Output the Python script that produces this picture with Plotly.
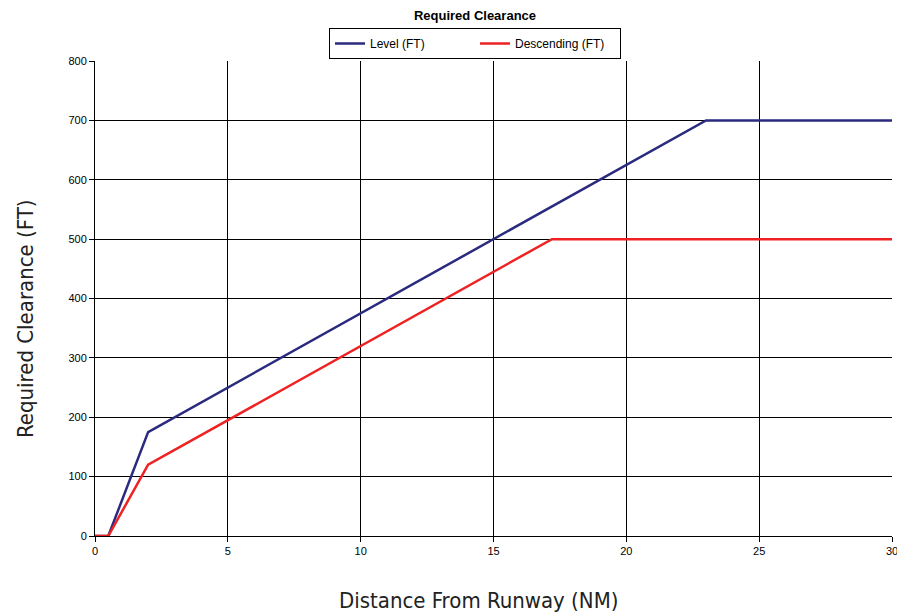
import plotly.graph_objects as go

level_x = [0, 0.5, 2, 23, 30]
level_y = [0, 0, 175, 700, 700]
desc_x = [0, 0.5, 2, 17.2, 30]
desc_y = [0, 0, 120, 500, 500]

fig = go.Figure()
fig.add_trace(go.Scatter(x=level_x, y=level_y, mode="lines", name="Level (FT)",
                         line=dict(color="#2a2a7f", width=2.5)))
fig.add_trace(go.Scatter(x=desc_x, y=desc_y, mode="lines", name="Descending (FT)",
                         line=dict(color="#ee2222", width=2.5)))

W, H = 897, 615
L, T = 95, 61
PW, PH = 797, 475
axis_title_font = dict(family="DejaVu Sans Condensed, Liberation Sans Narrow, Arial", size=22, color="#222")
fig.update_layout(
    width=W, height=H,
    margin=dict(l=L, r=W - L - PW, t=T, b=H - T - PH, autoexpand=False),
    paper_bgcolor="white", plot_bgcolor="white",
    font=dict(family="Liberation Sans, Arial", size=11, color="black"),
    title=dict(text="<b>Required Clearance</b>", x=475 / W, xanchor="center", y=1 - 15 / H, yanchor="middle",
               font=dict(family="Liberation Sans, Arial", size=13, color="black")),
    legend=dict(orientation="h", x=(475 - L) / PW, xanchor="center", y=1.0 + (T - 28) / PH, yanchor="top",
                bordercolor="black", borderwidth=1, font=dict(size=12, family="Liberation Sans, Arial"),
                itemwidth=30, tracegroupgap=0, entrywidthmode="pixels", entrywidth=100),
    xaxis=dict(range=[0, 30], tickvals=[0, 5, 10, 15, 20, 25, 30], showgrid=True,
               gridcolor="black", gridwidth=1, showline=True, linecolor="black", linewidth=1,
               ticks="outside", ticklen=5, tickcolor="black", zeroline=False, mirror=False,
               ticklabeloverflow="allow"),
    yaxis=dict(range=[0, 800], tickvals=list(range(0, 801, 100)), showgrid=True,
               gridcolor="black", gridwidth=1, showline=True, linecolor="black", linewidth=1,
               ticks="outside", ticklen=5, tickcolor="black", zeroline=False,
               ticklabeloverflow="allow"),
    showlegend=True,
    annotations=[
        dict(text="Distance From Runway (NM)", xref="paper", yref="paper",
             x=(478 - L) / PW, y=-(600 - (T + PH)) / PH, xanchor="center", yanchor="middle",
             showarrow=False, font=axis_title_font),
        dict(text="Required Clearance (FT)", xref="paper", yref="paper",
             x=(25 - L) / PW, y=((T + PH) - 319) / PH, xanchor="center", yanchor="middle",
             textangle=-90, showarrow=False, font=axis_title_font),
    ],
)
fig.write_html("out.html", config={"displayModeBar": False},
               post_script="document.body.style.margin='0';document.body.style.overflow='hidden';")
